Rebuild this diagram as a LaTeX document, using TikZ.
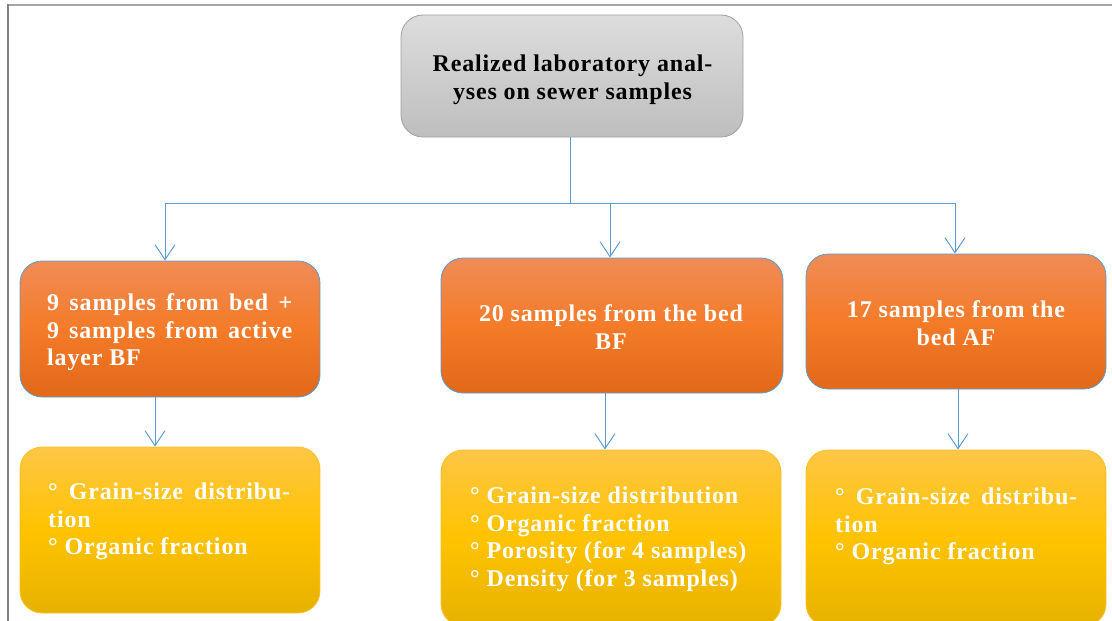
\documentclass[tikz,border=0pt]{standalone}
\usepackage{fontspec}
\setmainfont{Liberation Serif}
\usetikzlibrary{arrows.meta}
\definecolor{frameA}{HTML}{808080}
\definecolor{frameB}{HTML}{A6A6A6}
\definecolor{gtop}{HTML}{DDDDDD}
\definecolor{gbot}{HTML}{BEBEBE}
\definecolor{gline}{HTML}{A0A0A0}
\definecolor{otop}{HTML}{F08C57}
\definecolor{omid}{HTML}{F47B28}
\definecolor{obot}{HTML}{E2681A}
\definecolor{ytop}{HTML}{FEC646}
\definecolor{ymid}{HTML}{FFC300}
\definecolor{ybot}{HTML}{E6B200}
\definecolor{yline}{HTML}{FBC02D}
\definecolor{blueline}{HTML}{5B9BD5}
\newcommand{\fs}{\rule{0pt}{20pt}}
\begin{document}
\begin{tikzpicture}[x=1pt,y=-1pt,
  box/.style={rounded corners=22pt, inner sep=0pt, line width=0.8pt},
  graybox/.style={box, draw=gline, top color=gtop, bottom color=gbot},
  orangebox/.style={box, draw=blueline, top color=otop, bottom color=obot, middle color=omid},
  yellowbox/.style={box, draw=yline, top color=ytop, bottom color=ybot, middle color=ymid},
  txt/.style={font=\bfseries\fontsize{24}{27.8}\selectfont\addfontfeature{LetterSpace=3.5}, text=white, inner sep=0pt},
  ltxt/.style={txt, anchor=north west, align=left},
  ctxt/.style={txt, anchor=north, align=center},
  conn/.style={draw=blueline, line width=1pt},
  arr/.style={conn, -{Straight Barb[length=15pt,width=20pt]}}
]
\useasboundingbox (0,0) rectangle (1112,621);
\clip (0,0) rectangle (1112,621);
% frame
\draw[frameB, line width=1.5pt] (8,5) -- (1112,5);
\draw[frameA, line width=2pt] (8,4) -- (8,621);
% boxes
\node[graybox, minimum width=342pt, minimum height=122pt] (top) at (572,76) {};
\node[orangebox, minimum width=300pt, minimum height=136pt] (o1) at (170,329) {};
\node[orangebox, minimum width=342pt, minimum height=135pt] (o2) at (612,325.5) {};
\node[orangebox, minimum width=300pt, minimum height=135pt] (o3) at (956,321.5) {};
\node[yellowbox, minimum width=300pt, minimum height=166pt] (y1) at (170,530) {};
\node[yellowbox, minimum width=340pt, minimum height=176pt] (y2) at (611,538) {};
\node[yellowbox, minimum width=300pt, minimum height=176pt] (y3) at (956,538) {};
% texts (anchored 20pt above the first baseline)
\node[ctxt, text=black] (ttop) at (572.5,51)
  {\fs Realized laboratory anal-\\yses on sewer samples};
\node[ltxt] (to1) at (47,290)
  {\fs\makebox[245pt][s]{9 samples from bed +}\\\makebox[245pt][s]{9 samples from active}\\layer BF};
\node[ctxt] (to2) at (611,301)
  {\fs 20 samples from the bed\\BF};
\node[ctxt] (to3) at (956,297)
  {\fs 17 samples from the\\bed AF};
\node[ltxt] (ty1) at (48,479)
  {\fs\makebox[242pt][s]{° Grain-size distribu-}\\tion\\° Organic fraction};
\node[ltxt] (ty2) at (470,483)
  {\fs ° Grain-size distribution\\° Organic fraction\\° Porosity (for 4 samples)\\° Density (for 3 samples)};
\node[ltxt] (ty3) at (835,484)
  {\fs\makebox[242pt][s]{° Grain-size distribu-}\\tion\\° Organic fraction};
% connectors
\coordinate (bus) at (570,203);
\draw[conn] (top.south -| bus) -- (bus);
\draw[arr] (bus) -- (165,203) -- ([xshift=-5pt]o1.north);
\draw[arr] (bus) -- (610,203) -- ([xshift=-2pt]o2.north);
\draw[arr] (bus) -- (955,203) -- ([xshift=-1pt]o3.north);
\draw[arr] ([xshift=-15pt]o1.south) -- ([xshift=-15pt]y1.north);
\draw[arr] ([xshift=-7pt]o2.south) -- ([xshift=-6pt]y2.north);
\draw[arr] ([xshift=2pt]o3.south) -- ([xshift=2pt]y3.north);
\end{tikzpicture}
\end{document}
